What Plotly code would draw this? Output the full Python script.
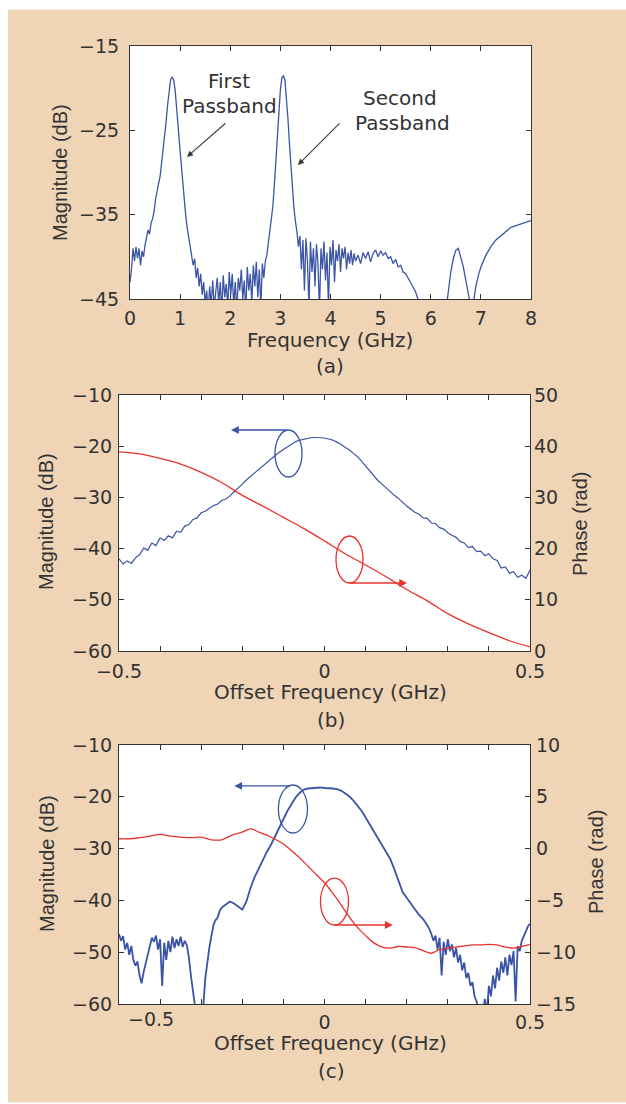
import plotly.graph_objects as go

W, H = 626, 1104
def px(x):
    return x / W
def py(y):
    return 1 - y / H

# ---------------- Panel (a): magnitude vs frequency ----------------
freq_a = [0.00, 0.03, 0.06, 0.09, 0.12, 0.15, 0.18, 0.21, 0.24, 0.27, 0.30, 0.33, 0.36, 0.39, 0.42,
          0.45, 0.48, 0.51, 0.54, 0.57, 0.60, 0.63, 0.66, 0.69, 0.72, 0.75, 0.78, 0.81, 0.84, 0.87,
          0.90, 0.93, 0.96, 0.99, 1.02, 1.05, 1.08, 1.11, 1.14, 1.17, 1.20, 1.23, 1.26, 1.29, 1.32,
          1.35, 1.38, 1.41, 1.44, 1.47, 1.50, 1.53, 1.56, 1.59, 1.62, 1.65, 1.68, 1.71, 1.74, 1.77,
          1.80, 1.83, 1.86, 1.89, 1.92, 1.95, 1.98, 2.01, 2.04, 2.07, 2.10, 2.13, 2.16, 2.19, 2.22,
          2.25, 2.28, 2.31, 2.34, 2.37, 2.40, 2.43, 2.46, 2.49, 2.52, 2.55, 2.58, 2.61, 2.64, 2.67,
          2.70, 2.73, 2.76, 2.79, 2.82, 2.85, 2.88, 2.91, 2.94, 2.97, 3.00, 3.03, 3.06, 3.09, 3.12,
          3.15, 3.18, 3.21, 3.24, 3.27, 3.30, 3.33, 3.36, 3.39, 3.42, 3.45, 3.48, 3.51, 3.54, 3.57,
          3.60, 3.63, 3.66, 3.69, 3.72, 3.75, 3.78, 3.81, 3.84, 3.87, 3.90, 3.93, 3.96, 3.99, 4.02,
          4.05, 4.08, 4.11, 4.14, 4.17, 4.20, 4.23, 4.26, 4.29, 4.32, 4.35, 4.38, 4.41, 4.44, 4.47,
          4.50, 4.55, 4.60, 4.65, 4.70, 4.75, 4.80, 4.85, 4.90, 4.95, 5.00, 5.05, 5.10, 5.15, 5.20,
          5.25, 5.30, 5.35, 5.40, 5.45, 5.50, 5.55, 5.60, 5.65, 5.70, 5.75, 5.80, 5.85, 5.95, 6.05,
          6.15, 6.25, 6.30, 6.35, 6.40, 6.45, 6.50, 6.55, 6.60, 6.65, 6.70, 6.75, 6.80, 6.85, 6.90,
          6.95, 7.00, 7.10, 7.20, 7.30, 7.40, 7.50, 7.60, 7.70, 7.80, 7.90, 8.00]
mag_a = [-43.0, -41.5, -39.0, -40.5, -38.8, -40.2, -39.0, -41.0, -39.3, -40.0, -38.6, -37.5, -36.8, -37.3, -36.0,
         -35.5, -34.6, -33.2, -32.0, -31.3, -30.5, -29.0, -27.5, -25.8, -24.0, -22.0, -20.2, -19.0, -18.7, -19.0,
         -20.2, -22.0, -24.5, -26.8, -29.0, -31.2, -33.3, -35.0, -36.5, -37.6, -38.8, -39.8, -41.0, -40.2, -42.5,
         -41.3, -43.5, -42.0, -44.5, -43.0, -45.5, -44.0, -46.5, -43.5, -45.8, -42.8, -46.0, -44.2, -42.5, -45.5,
         -43.0, -46.5, -42.2, -44.8, -43.2, -46.0, -41.8, -44.5, -42.0, -45.8, -43.0, -46.5, -42.5, -44.0, -41.5,
         -45.0, -42.8, -46.5, -41.2, -44.0, -42.0, -45.5, -41.0, -43.5, -40.6, -44.8, -41.5, -46.0, -40.8, -42.5,
         -40.5, -39.8, -38.5, -37.0, -35.5, -34.0, -31.5, -28.8, -25.8, -22.8, -20.2, -18.8, -18.5, -19.0, -20.8,
         -23.5, -26.5, -29.5, -32.0, -34.2, -35.8, -37.0, -38.8, -37.5, -41.5, -38.0, -44.0, -37.8, -40.5, -46.0,
         -38.2, -41.8, -39.0, -43.5, -38.5, -40.8, -46.5, -39.0, -41.5, -38.2, -42.8, -39.5, -46.0, -38.8, -41.0,
         -38.0, -43.0, -39.2, -40.5, -38.5, -41.8, -39.0, -40.2, -38.8, -41.5, -39.5, -40.8, -39.2, -41.0, -39.6,
         -40.5, -39.8, -40.8, -39.5, -40.2, -39.4, -40.6, -39.6, -39.2, -40.0, -39.3, -39.8, -39.5, -40.2, -40.0,
         -40.8, -40.3, -41.2, -41.0, -41.8, -42.0, -42.5, -43.0, -43.6, -44.2, -45.0, -46.0, -48.0, -49.0, -50.0,
         -50.0, -48.0, -46.5, -44.0, -41.8, -40.2, -39.2, -39.0, -40.0, -41.2, -42.8, -44.2, -46.0, -45.5, -43.5,
         -42.2, -41.2, -39.8, -38.8, -38.0, -37.5, -36.9, -36.5, -36.3, -36.1, -35.9, -35.7]

# ---------------- Panel (b): magnitude & phase vs offset ----------------
offset_b = [-0.50, -0.49, -0.48, -0.47, -0.46, -0.45, -0.44, -0.43, -0.42, -0.41, -0.40, -0.39, -0.38, -0.37,
            -0.36, -0.35, -0.34, -0.33, -0.32, -0.31, -0.30, -0.29, -0.28, -0.27, -0.26, -0.25, -0.24, -0.23,
            -0.22, -0.21, -0.20, -0.19, -0.18, -0.17, -0.16, -0.15, -0.14, -0.13, -0.12, -0.11, -0.10, -0.09,
            -0.08, -0.07, -0.06, -0.05, -0.04, -0.03, -0.02, -0.01, 0.00, 0.01, 0.02, 0.03, 0.04, 0.05, 0.06,
            0.07, 0.08, 0.09, 0.10, 0.11, 0.12, 0.13, 0.14, 0.15, 0.16, 0.17, 0.18, 0.19, 0.20, 0.21, 0.22,
            0.23, 0.24, 0.25, 0.26, 0.27, 0.28, 0.29, 0.30, 0.31, 0.32, 0.33, 0.34, 0.35, 0.36, 0.37, 0.38,
            0.39, 0.40, 0.41, 0.42, 0.43, 0.44, 0.45, 0.46, 0.47, 0.48, 0.49, 0.50]
mag_b = [-42.0, -43.0, -42.4, -42.9, -41.8, -41.2, -39.9, -40.3, -38.9, -39.4, -37.9, -38.4, -37.5, -37.9,
         -36.6, -36.8, -35.6, -35.3, -34.3, -34.0, -33.0, -32.7, -32.1, -31.6, -31.3, -30.6, -30.3, -29.7,
         -28.9, -28.2, -27.4, -26.6, -25.9, -25.2, -24.5, -23.8, -23.1, -22.5, -21.8, -21.2, -20.6, -20.1,
         -19.6, -19.1, -18.8, -18.6, -18.4, -18.3, -18.3, -18.3, -18.4, -18.6, -18.8, -19.2, -19.6, -20.2, -20.7,
         -21.4, -22.0, -22.9, -23.9, -24.9, -25.8, -26.7, -27.4, -28.2, -28.8, -29.6, -30.2, -31.0, -31.7, -32.3, -32.9,
         -33.3, -34.0, -34.1, -35.0, -35.1, -35.9, -36.2, -36.9, -37.4, -37.8, -38.6, -38.9, -39.8, -39.6, -40.6, -40.5,
         -41.4, -41.0, -42.0, -42.3, -43.8, -43.6, -44.8, -44.5, -45.6, -45.2, -45.8, -44.2]
phase_offset_b = [-0.50, -0.45, -0.40, -0.35, -0.30, -0.25, -0.20, -0.15, -0.10, -0.05, 0.00,
                  0.05, 0.10, 0.15, 0.20, 0.25, 0.30, 0.35, 0.40, 0.45, 0.50]
phase_b = [38.9, 38.5, 37.6, 36.5, 34.9, 32.9, 30.4, 28.3, 26.1, 23.9, 21.5,
           19.0, 16.8, 14.5, 12.0, 9.8, 7.3, 5.3, 3.6, 2.0, 0.8]

# ---------------- Panel (c): magnitude & phase vs offset ----------------
offset_c = [-0.500, -0.495, -0.490, -0.485, -0.480, -0.475, -0.470, -0.465, -0.460, -0.455, -0.450, -0.445,
            -0.440, -0.435, -0.430, -0.425, -0.420, -0.415, -0.410, -0.405, -0.400, -0.395, -0.390, -0.385,
            -0.380, -0.375, -0.370, -0.365, -0.360, -0.355, -0.350, -0.345, -0.340, -0.335, -0.330, -0.325,
            -0.320, -0.315, -0.310, -0.305, -0.300, -0.295, -0.290, -0.285, -0.280, -0.275, -0.270, -0.265,
            -0.260, -0.255,
            -0.25, -0.24, -0.23, -0.22, -0.21, -0.20, -0.19, -0.18, -0.17, -0.16, -0.15, -0.14, -0.13, -0.12,
            -0.11, -0.10, -0.09, -0.08, -0.07, -0.06, -0.05, -0.04, -0.03, -0.02, -0.01, 0.00, 0.01, 0.02,
            0.03, 0.04, 0.05, 0.06, 0.07, 0.08, 0.09, 0.10, 0.11, 0.12, 0.13, 0.14, 0.15, 0.16, 0.17, 0.18,
            0.19, 0.20, 0.21, 0.22, 0.23, 0.24, 0.25,
            0.255, 0.260, 0.265, 0.270, 0.275, 0.280, 0.285, 0.290, 0.295, 0.300, 0.305, 0.310, 0.315, 0.320,
            0.325, 0.330, 0.335, 0.340, 0.345, 0.350, 0.355, 0.360, 0.365, 0.370, 0.375, 0.380, 0.385, 0.390,
            0.395, 0.400, 0.405, 0.410, 0.415, 0.420, 0.425, 0.430, 0.435, 0.440, 0.445, 0.450, 0.455, 0.460,
            0.465, 0.470, 0.475, 0.480, 0.485, 0.490, 0.495, 0.500]
mag_c = [-46.5, -47.8, -46.9, -49.5, -48.2, -50.5, -48.8, -51.5, -52.6, -51.8, -54.5, -56.0,
         -53.8, -52.0, -50.5, -48.5, -47.2, -48.0, -46.8, -49.5, -47.5, -56.5, -48.2, -51.5,
         -47.8, -50.0, -47.0, -49.2, -47.5, -48.8, -47.0, -49.0, -47.8, -48.6, -51.0, -54.5,
         -58.0, -60.5, -61.5, -60.8, -62.0, -60.5, -55.0, -51.5, -49.0, -46.8, -44.7, -43.8,
         -43.3, -42.0,
         -41.4, -40.8, -40.2, -40.6, -41.2, -41.8, -40.2, -37.6, -35.5, -33.8, -32.3, -30.6, -29.2, -27.6,
         -25.9, -24.2, -22.7, -21.4, -20.1, -19.2, -18.6, -18.4, -18.3, -18.3, -18.2, -18.3, -18.3, -18.4,
         -18.5, -18.8, -19.3, -19.9, -20.7, -21.6, -22.7, -24.0, -25.3, -26.6, -27.9, -29.2, -30.6, -32.0,
         -34.0, -36.2, -38.4, -39.5, -40.5, -41.7, -42.8, -43.6, -44.8,
         -45.5, -46.5, -47.8, -46.8, -49.5, -47.2, -54.5, -48.0, -50.5, -47.5, -49.8, -48.5, -51.0, -49.2,
         -52.0, -50.5, -53.5, -52.0, -55.0, -54.0, -56.5, -55.8, -58.5, -59.5, -61.0, -60.5, -62.0, -59.0,
         -61.5, -56.5, -58.5, -54.5, -57.0, -53.0, -55.5, -51.8, -54.0, -51.0, -54.5, -50.5, -52.5, -49.8,
         -59.5, -48.8, -49.8, -47.8, -47.0, -46.0, -45.0, -44.5]
phase_offset_c = [-0.50, -0.475, -0.45, -0.425, -0.40, -0.375, -0.35, -0.325, -0.30, -0.275, -0.25, -0.225,
                  -0.20, -0.18, -0.16, -0.14, -0.12, -0.10, -0.08, -0.06, -0.04, -0.02, 0.00, 0.02, 0.04,
                  0.06, 0.08, 0.10, 0.12, 0.14, 0.16, 0.18, 0.20, 0.22, 0.24, 0.26, 0.28, 0.30, 0.32, 0.34,
                  0.36, 0.38, 0.40, 0.42, 0.44, 0.46, 0.48, 0.50]
phase_c = [0.95, 0.95, 1.05, 1.2, 1.38, 1.2, 1.1, 1.05, 1.1, 0.85, 0.85, 1.3,
           1.6, 1.9, 1.6, 1.3, 0.9, 0.45, -0.2, -0.9, -1.7, -2.5, -3.3, -4.3, -5.4,
           -6.6, -7.6, -8.4, -9.1, -9.5, -9.6, -9.45, -9.5, -9.55, -9.85, -10.1, -9.75, -9.6, -9.5, -9.4,
           -9.3, -9.3, -9.25, -9.3, -9.5, -9.6, -9.45, -9.25]

# ---------------- Tick labels ----------------
xticks_a = [0, 1, 2, 3, 4, 5, 6, 7, 8]
yticks_a = [-45, -35, -25, -15]
xticks_bc = [-0.5, -0.4, -0.3, -0.2, -0.1, 0.0, 0.1, 0.2, 0.3, 0.4, 0.5]
xtext_b = ["\u22120.5", "", "", "", "", "0", "", "", "", "", "0.5"]
xtext_c = ["", "", "", "", "", "0", "", "", "", "", "0.5"]
ymag_ticks = [-60, -50, -40, -30, -20, -10]
yphase_ticks_b = [0, 10, 20, 30, 40, 50]
yphase_ticks_c = [-15, -10, -5, 0, 5, 10]

BLUE = "#3B54A6"
RED = "#E8322C"
TAN = "#F0D4B6"
INK = "#333333"
TICKFONT = dict(family="DejaVu Sans", size=19, color=INK)
HFONT = dict(family="DejaVu Sans", size=20, color=INK)
VFONT = dict(family="Liberation Sans", size=20, color=INK)

fig = go.Figure()
fig.add_trace(go.Scatter(x=freq_a, y=mag_a, mode="lines", line=dict(color=BLUE, width=1.3),
                         xaxis="x", yaxis="y", showlegend=False, hoverinfo="skip"))
fig.add_trace(go.Scatter(x=phase_offset_b, y=phase_b, mode="lines", line=dict(color=RED, width=1.3, shape="spline"),
                         xaxis="x2", yaxis="y3", showlegend=False, hoverinfo="skip"))
fig.add_trace(go.Scatter(x=offset_b, y=mag_b, mode="lines", line=dict(color=BLUE, width=1.2),
                         xaxis="x2", yaxis="y2", showlegend=False, hoverinfo="skip"))
fig.add_trace(go.Scatter(x=offset_c, y=mag_c, mode="lines", line=dict(color=BLUE, width=1.8),
                         xaxis="x3", yaxis="y4", showlegend=False, hoverinfo="skip"))
fig.add_trace(go.Scatter(x=phase_offset_c, y=phase_c, mode="lines", line=dict(color=RED, width=1.3, shape="spline"),
                         xaxis="x3", yaxis="y5", showlegend=False, hoverinfo="skip"))

axis_common = dict(showline=True, linecolor=INK, linewidth=1.2, ticks="inside", ticklen=5,
                   tickcolor=INK, tickwidth=1, showgrid=False, zeroline=False, tickfont=TICKFONT,
                   automargin=False)

dom_a_x = [px(130), px(531)]
dom_a_y = [py(299), py(46)]
dom_bc_x = [px(119), px(530)]
dom_b_y = [py(651), py(395)]
dom_c_y = [py(1004), py(745)]

fig.update_layout(
    width=W, height=H, autosize=False,
    margin=dict(l=0, r=0, t=0, b=0, pad=0, autoexpand=False),
    paper_bgcolor=TAN, plot_bgcolor="white",
    xaxis=dict(axis_common, domain=dom_a_x, anchor="y", range=[0, 8], tickmode="array",
               tickvals=xticks_a, mirror="ticks", ticklabelstandoff=2),
    yaxis=dict(axis_common, domain=dom_a_y, anchor="x", range=[-45, -15], tickmode="array",
               tickvals=yticks_a, mirror="ticks", ticklabelstandoff=6),
    xaxis2=dict(axis_common, domain=dom_bc_x, anchor="y2", range=[-0.5, 0.5], tickmode="array",
                tickvals=xticks_bc, ticktext=xtext_b, mirror="ticks", ticklabelstandoff=3),
    yaxis2=dict(axis_common, domain=dom_b_y, anchor="x2", range=[-60, -10], tickmode="array",
                tickvals=ymag_ticks, mirror="ticks", ticklabelstandoff=2),
    yaxis3=dict(axis_common, domain=dom_b_y, anchor="x2", overlaying="y2", side="right", range=[0, 50],
                tickmode="array", tickvals=yphase_ticks_b, showline=False, ticklabelstandoff=3),
    xaxis3=dict(axis_common, domain=dom_bc_x, anchor="y4", range=[-0.5, 0.5], tickmode="array",
                tickvals=xticks_bc, ticktext=xtext_c, mirror="ticks", ticklabelstandoff=1),
    yaxis4=dict(axis_common, domain=dom_c_y, anchor="x3", range=[-60, -10], tickmode="array",
                tickvals=ymag_ticks, mirror="ticks", ticklabelstandoff=2),
    yaxis5=dict(axis_common, domain=dom_c_y, anchor="x3", overlaying="y4", side="right", range=[-15, 10],
                tickmode="array", tickvals=yphase_ticks_c, showline=False, ticklabelstandoff=5),
)

# white page strips around the tan panel
for (x0, y0, x1, y1) in [(0, 0, px(8), 1), (0, py(9.5), 1, 1), (0, 0, 1, py(1102.5))]:
    fig.add_shape(type="rect", xref="paper", yref="paper", x0=x0, y0=y0, x1=x1, y1=y1,
                  fillcolor="white", line=dict(width=0), layer="below")

ann = []
def text(s, x, y, font, angle=0):
    ann.append(dict(text=s, x=px(x), y=py(y), xref="paper", yref="paper", showarrow=False,
                    xanchor="center", yanchor="middle", font=font, textangle=angle))

# axis titles & panel labels
text("Frequency (GHz)", 330, 340, HFONT)
text("(a)", 330, 366, HFONT)
text("Magnitude (dB)", 60, 173, VFONT, -90)
text("Offset Frequency (GHz)", 330, 692, HFONT)
text("(b)", 331, 720, HFONT)
text("Magnitude (dB)", 46, 522, VFONT, -90)
text("Phase (rad)", 580, 524, VFONT, -90)
text("Offset Frequency (GHz)", 330, 1043, HFONT)
text("(c)", 331, 1071, HFONT)
text("Magnitude (dB)", 47, 864, VFONT, -90)
text("Phase (rad)", 596, 862, VFONT, -90)
text("\u22120.5", 151, 1019, TICKFONT)

# passband labels (panel a)
text("First", 229, 81, HFONT)
text("Passband", 229, 106, HFONT)
text("Second", 400, 98, HFONT)
text("Passband", 402, 123, HFONT)

def arrow(xr, yr, hx, hy, tx, ty, color, width=1.3, size=1.2):
    ann.append(dict(text="", x=hx, y=hy, ax=tx, ay=ty, xref=xr, yref=yr, axref=xr, ayref=yr,
                    showarrow=True, arrowhead=2, arrowsize=size, arrowwidth=width, arrowcolor=color))

arrow("x", "y", 1.137, -28.16, 1.935, -24.0, "#3a3a3a", 1.1, 1.1)
arrow("x", "y", 3.35, -29.1, 4.21, -24.0, "#3a3a3a", 1.1, 1.1)
arrow("x2", "y2", -0.2275, -16.84, -0.088, -16.84, BLUE)
arrow("x2", "y2", 0.2007, -46.72, 0.057, -46.72, RED)
arrow("x3", "y4", -0.2195, -17.9, -0.0805, -17.9, BLUE)
arrow("x3", "y4", 0.166, -44.75, 0.022, -44.75, RED)
fig.update_layout(annotations=ann)

# ellipses marking which curve belongs to which axis
fig.add_shape(type="circle", xref="x2", yref="y2", x0=-0.1204, x1=-0.0547, y0=-26.02, y1=-16.84,
              line=dict(color=BLUE, width=1.3))
fig.add_shape(type="circle", xref="x2", yref="y2", x0=0.028, x1=0.0937, y0=-46.72, y1=-37.54,
              line=dict(color=RED, width=1.3))
fig.add_shape(type="circle", xref="x3", yref="y4", x0=-0.1122, x1=-0.0415, y0=-26.99, y1=-17.72,
              line=dict(color=BLUE, width=1.3))
fig.add_shape(type="circle", xref="x3", yref="y4", x0=-0.0098, x1=0.0585, y0=-44.75, y1=-35.7,
              line=dict(color=RED, width=1.3))

fig.write_html("out.html", config={"displayModeBar": False},
               post_script="document.body.style.margin='0px';document.body.style.overflow='hidden';")
